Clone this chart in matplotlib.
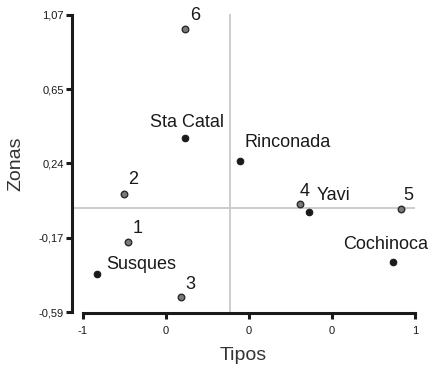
import matplotlib
matplotlib.use("Agg")
import matplotlib.pyplot as plt

plt.rcParams['font.family'] = ['Liberation Sans', 'DejaVu Sans']

# Data
tipos_labels = ["1", "2", "3", "4", "5", "6"]
tipos_x = [-0.729, -0.753, -0.410, 0.307, 0.916, -0.386]
tipos_y = [-0.198, 0.070, -0.507, 0.014, -0.015, 0.992]

zonas_labels = ["Susques", "Sta Catal", "Rinconada", "Yavi", "Cochinoca"]
zonas_x = [-0.916, -0.386, -0.054, 0.361, 0.867]
zonas_y = [-0.377, 0.383, 0.254, -0.029, -0.308]

ref_x = -0.114
ref_y = -0.007

x_ticks = [-1, -0.5, 0, 0.5, 1]
x_ticklabels = ["-1", "0", "0", "0", "1"]
y_ticks = [-0.59, -0.175, 0.24, 0.655, 1.07]
y_ticklabels = ["-0,59", "-0,17", "0,24", "0,65", "1,07"]

# label offsets in pixels (dx to left edge, dy to text centre) - style
tipos_off = [(5, 13), (4, 14), (4, 13), (0, 12), (2, 14), (5, 13)]
zonas_off = [(9, 10), (-35, 15), (4, 18), (8, 16), (-50, 17)]

fig = plt.figure(figsize=(4.30, 3.67), dpi=100)
ax = fig.add_axes([0.1674, 0.147, 0.7977, 0.815])

ax.axvline(ref_x, color="#c8c8c8", lw=1.3, zorder=1)
ax.axhline(ref_y, color="#c8c8c8", lw=1.3, zorder=1)

ax.scatter(tipos_x, tipos_y, s=22, c="#7a7a7a", edgecolors="#2a2a2a", linewidths=1.0, zorder=3)
ax.scatter(zonas_x, zonas_y, s=22, c="#1a1a1a", edgecolors="#1a1a1a", linewidths=0.8, zorder=3)

px = 0.72
for lab, x, y, off in zip(tipos_labels + zonas_labels, tipos_x + zonas_x,
                          tipos_y + zonas_y, tipos_off + zonas_off):
    ax.annotate(lab, (x, y), xytext=(off[0] * px, off[1] * px), textcoords="offset points",
                fontsize=13, color="#1a1a1a", ha="left", va="center", annotation_clip=False)

ax.set_xlim(-1.066, 1.0)
ax.set_ylim(-0.595, 1.075)

for s in ["top", "right"]:
    ax.spines[s].set_visible(False)
ax.spines["left"].set_bounds(-0.59, 1.07)
ax.spines["bottom"].set_bounds(-1, 1)
for s in ["left", "bottom"]:
    ax.spines[s].set_linewidth(2.2)
    ax.spines[s].set_color("#1a1a1a")

ax.set_xticks(x_ticks)
ax.set_xticklabels(x_ticklabels)
ax.set_yticks(y_ticks)
ax.set_yticklabels(y_ticklabels)
ax.tick_params(axis="both", direction="out", length=4, width=2.2, color="#1a1a1a",
               labelsize=8, labelcolor="#1a1a1a", pad=2)
ax.tick_params(axis="x", pad=5)

ax.set_xlabel("Tipos", fontsize=14, color="#333333", labelpad=8)
ax.set_ylabel("Zonas", fontsize=14, color="#333333", labelpad=10)

fig.savefig("out.png", dpi=100)
